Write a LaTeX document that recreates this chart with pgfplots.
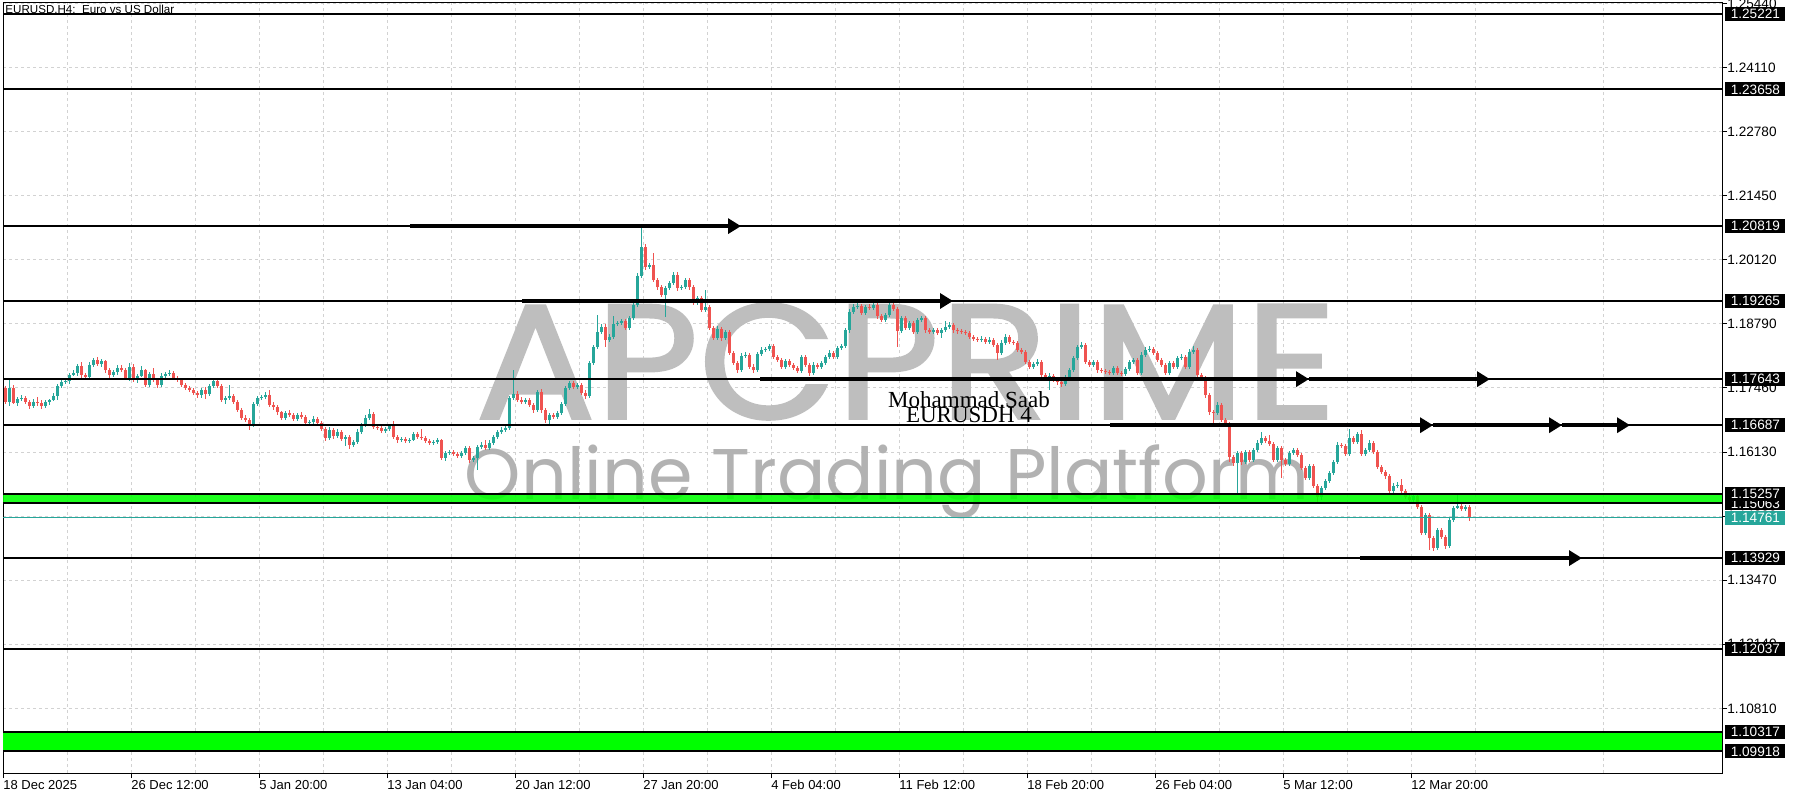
\documentclass[border=0pt]{standalone}
\usepackage{pgfplots}
\pgfplotsset{compat=1.18}
\usepackage{pgfplotstable}
\usepackage{fontspec}
\usepackage{graphicx}
\usetikzlibrary{arrows.meta}
\setmainfont{Liberation Sans}
\newfontfamily\poppins{Poppins}
\newfontfamily\poppinsFB[FakeBold=1.6]{Poppins}
\newfontfamily\serifT{Liberation Serif}
\definecolor{bull}{RGB}{38,166,154}
\definecolor{bear}{RGB}{239,83,80}
\definecolor{lvlgreen}{RGB}{0,255,0}
\definecolor{wm}{RGB}{190,190,190}
\definecolor{wmtxt}{RGB}{178,178,178}
\definecolor{gridc}{RGB}{210,210,210}

\pgfplotstableread{
i o h l c
0 1.1746 1.1751 1.1713 1.1717
1 1.1717 1.1763 1.1708 1.1746
2 1.1746 1.1753 1.1712 1.1715
3 1.1715 1.1727 1.1708 1.1723
4 1.1723 1.1731 1.1718 1.1725
5 1.1725 1.1730 1.1713 1.1717
6 1.1717 1.1720 1.1702 1.1708
7 1.1708 1.1724 1.1705 1.1717
8 1.1717 1.1728 1.1708 1.1715
9 1.1715 1.1721 1.1703 1.1708
10 1.1708 1.1722 1.1704 1.1717
11 1.1717 1.1724 1.1711 1.1721
12 1.1721 1.1736 1.1718 1.1729
13 1.1729 1.1754 1.1722 1.1750
14 1.1750 1.1764 1.1745 1.1758
15 1.1758 1.1765 1.1754 1.1760
16 1.1760 1.1776 1.1754 1.1773
17 1.1773 1.1784 1.1770 1.1777
18 1.1777 1.1796 1.1770 1.1792
19 1.1792 1.1800 1.1767 1.1773
20 1.1773 1.1776 1.1764 1.1769
21 1.1769 1.1799 1.1765 1.1794
22 1.1794 1.1809 1.1789 1.1804
23 1.1804 1.1810 1.1792 1.1796
24 1.1796 1.1806 1.1790 1.1802
25 1.1802 1.1805 1.1778 1.1783
26 1.1783 1.1787 1.1767 1.1773
27 1.1773 1.1784 1.1769 1.1779
28 1.1779 1.1793 1.1773 1.1788
29 1.1788 1.1794 1.1779 1.1783
30 1.1783 1.1787 1.1762 1.1767
31 1.1767 1.1797 1.1761 1.1790
32 1.1790 1.1795 1.1759 1.1763
33 1.1763 1.1775 1.1757 1.1771
34 1.1771 1.1791 1.1768 1.1783
35 1.1783 1.1786 1.1747 1.1752
36 1.1752 1.1780 1.1748 1.1775
37 1.1775 1.1787 1.1758 1.1763
38 1.1763 1.1767 1.1746 1.1752
39 1.1752 1.1776 1.1748 1.1771
40 1.1771 1.1779 1.1765 1.1775
41 1.1775 1.1784 1.1771 1.1777
42 1.1777 1.1781 1.1763 1.1767
43 1.1767 1.1771 1.1758 1.1763
44 1.1763 1.1766 1.1748 1.1752
45 1.1752 1.1756 1.1741 1.1746
46 1.1746 1.1750 1.1737 1.1742
47 1.1742 1.1745 1.1732 1.1736
48 1.1736 1.1740 1.1725 1.1731
49 1.1731 1.1745 1.1726 1.1742
50 1.1742 1.1748 1.1723 1.1734
51 1.1734 1.1755 1.1729 1.1750
52 1.1750 1.1765 1.1746 1.1760
53 1.1760 1.1765 1.1746 1.1750
54 1.1750 1.1754 1.1716 1.1721
55 1.1721 1.1729 1.1712 1.1725
56 1.1725 1.1752 1.1720 1.1729
57 1.1729 1.1733 1.1713 1.1717
58 1.1717 1.1721 1.1696 1.1700
59 1.1700 1.1704 1.1679 1.1684
60 1.1684 1.1689 1.1675 1.1680
61 1.1680 1.1684 1.1659 1.1669
62 1.1669 1.1717 1.1665 1.1713
63 1.1713 1.1730 1.1709 1.1725
64 1.1725 1.1732 1.1720 1.1727
65 1.1727 1.1738 1.1723 1.1731
66 1.1731 1.1742 1.1707 1.1711
67 1.1711 1.1716 1.1701 1.1706
68 1.1706 1.1710 1.1690 1.1696
69 1.1696 1.1699 1.1679 1.1684
70 1.1684 1.1698 1.1680 1.1694
71 1.1694 1.1700 1.1686 1.1690
72 1.1690 1.1695 1.1677 1.1682
73 1.1682 1.1694 1.1678 1.1690
74 1.1690 1.1696 1.1681 1.1686
75 1.1686 1.1689 1.1669 1.1673
76 1.1673 1.1679 1.1668 1.1675
77 1.1675 1.1687 1.1672 1.1682
78 1.1682 1.1686 1.1669 1.1673
79 1.1673 1.1678 1.1656 1.1661
80 1.1661 1.1664 1.1636 1.1642
81 1.1642 1.1665 1.1639 1.1659
82 1.1659 1.1663 1.1641 1.1646
83 1.1646 1.1660 1.1642 1.1655
84 1.1655 1.1658 1.1635 1.1640
85 1.1640 1.1648 1.1626 1.1644
86 1.1644 1.1649 1.1620 1.1628
87 1.1628 1.1638 1.1624 1.1634
88 1.1634 1.1660 1.1629 1.1655
89 1.1655 1.1673 1.1651 1.1669
90 1.1669 1.1689 1.1665 1.1684
91 1.1684 1.1703 1.1680 1.1692
92 1.1692 1.1696 1.1661 1.1665
93 1.1665 1.1669 1.1658 1.1663
94 1.1663 1.1667 1.1652 1.1657
95 1.1657 1.1665 1.1653 1.1661
96 1.1661 1.1671 1.1656 1.1667
97 1.1667 1.1678 1.1640 1.1644
98 1.1644 1.1648 1.1632 1.1638
99 1.1638 1.1645 1.1634 1.1640
100 1.1640 1.1644 1.1631 1.1636
101 1.1636 1.1642 1.1632 1.1638
102 1.1638 1.1654 1.1635 1.1650
103 1.1650 1.1655 1.1640 1.1644
104 1.1644 1.1660 1.1638 1.1642
105 1.1642 1.1646 1.1632 1.1636
106 1.1636 1.1640 1.1627 1.1632
107 1.1632 1.1638 1.1628 1.1634
108 1.1634 1.1642 1.1630 1.1638
109 1.1638 1.1641 1.1596 1.1601
110 1.1601 1.1615 1.1595 1.1611
111 1.1611 1.1618 1.1607 1.1613
112 1.1613 1.1617 1.1604 1.1609
113 1.1609 1.1613 1.1601 1.1605
114 1.1605 1.1615 1.1601 1.1611
115 1.1611 1.1626 1.1607 1.1622
116 1.1622 1.1625 1.1590 1.1597
117 1.1597 1.1605 1.1592 1.1601
118 1.1601 1.1628 1.1576 1.1624
119 1.1624 1.1634 1.1620 1.1628
120 1.1628 1.1638 1.1617 1.1622
121 1.1622 1.1637 1.1618 1.1632
122 1.1632 1.1648 1.1628 1.1644
123 1.1644 1.1659 1.1640 1.1655
124 1.1655 1.1664 1.1650 1.1659
125 1.1659 1.1668 1.1654 1.1663
126 1.1663 1.1730 1.1658 1.1725
127 1.1725 1.1783 1.1720 1.1734
128 1.1734 1.1740 1.1716 1.1721
129 1.1721 1.1727 1.1712 1.1717
130 1.1717 1.1725 1.1713 1.1721
131 1.1721 1.1726 1.1706 1.1711
132 1.1711 1.1715 1.1695 1.1700
133 1.1700 1.1742 1.1696 1.1738
134 1.1738 1.1744 1.1694 1.1700
135 1.1700 1.1704 1.1674 1.1680
136 1.1680 1.1694 1.1667 1.1690
137 1.1690 1.1695 1.1681 1.1686
138 1.1686 1.1698 1.1682 1.1694
139 1.1694 1.1717 1.1690 1.1713
140 1.1713 1.1750 1.1709 1.1746
141 1.1746 1.1760 1.1742 1.1756
142 1.1756 1.1761 1.1743 1.1748
143 1.1748 1.1757 1.1744 1.1752
144 1.1752 1.1756 1.1731 1.1736
145 1.1736 1.1741 1.1724 1.1729
146 1.1729 1.1802 1.1726 1.1798
147 1.1798 1.1836 1.1793 1.1831
148 1.1831 1.1897 1.1827 1.1862
149 1.1862 1.1879 1.1858 1.1873
150 1.1873 1.1878 1.1831 1.1846
151 1.1846 1.1857 1.1841 1.1852
152 1.1852 1.1895 1.1848 1.1879
153 1.1879 1.1886 1.1875 1.1881
154 1.1881 1.1890 1.1876 1.1885
155 1.1885 1.1889 1.1866 1.1871
156 1.1871 1.1896 1.1867 1.1891
157 1.1891 1.1923 1.1887 1.1918
158 1.1918 1.1984 1.1914 1.1979
159 1.1979 1.2080 1.1975 1.2039
160 1.2039 1.2045 1.1990 1.1997
161 1.1997 1.2006 1.1992 1.2001
162 1.2001 1.2026 1.1965 1.1970
163 1.1970 1.1974 1.1950 1.1955
164 1.1955 1.1959 1.1934 1.1939
165 1.1939 1.1958 1.1893 1.1953
166 1.1953 1.1969 1.1949 1.1964
167 1.1964 1.1987 1.1960 1.1981
168 1.1981 1.1986 1.1948 1.1953
169 1.1953 1.1960 1.1949 1.1955
170 1.1955 1.1975 1.1951 1.1970
171 1.1970 1.1974 1.1950 1.1955
172 1.1955 1.1959 1.1918 1.1924
173 1.1924 1.1937 1.1919 1.1933
174 1.1933 1.1937 1.1903 1.1908
175 1.1908 1.1950 1.1903 1.1914
176 1.1914 1.1918 1.1866 1.1871
177 1.1871 1.1875 1.1845 1.1850
178 1.1850 1.1874 1.1846 1.1869
179 1.1869 1.1873 1.1844 1.1850
180 1.1850 1.1866 1.1846 1.1862
181 1.1862 1.1866 1.1814 1.1819
182 1.1819 1.1823 1.1793 1.1798
183 1.1798 1.1802 1.1778 1.1783
184 1.1783 1.1818 1.1779 1.1813
185 1.1813 1.1820 1.1808 1.1815
186 1.1815 1.1819 1.1786 1.1790
187 1.1790 1.1795 1.1778 1.1783
188 1.1783 1.1821 1.1779 1.1817
189 1.1817 1.1830 1.1812 1.1825
190 1.1825 1.1832 1.1820 1.1827
191 1.1827 1.1838 1.1823 1.1833
192 1.1833 1.1837 1.1806 1.1811
193 1.1811 1.1815 1.1799 1.1804
194 1.1804 1.1808 1.1785 1.1790
195 1.1790 1.1806 1.1786 1.1802
196 1.1802 1.1807 1.1790 1.1794
197 1.1794 1.1798 1.1783 1.1788
198 1.1788 1.1792 1.1776 1.1781
199 1.1781 1.1815 1.1777 1.1811
200 1.1811 1.1815 1.1789 1.1794
201 1.1794 1.1798 1.1771 1.1777
202 1.1777 1.1799 1.1773 1.1794
203 1.1794 1.1798 1.1785 1.1790
204 1.1790 1.1802 1.1786 1.1798
205 1.1798 1.1815 1.1794 1.1811
206 1.1811 1.1824 1.1807 1.1819
207 1.1819 1.1823 1.1806 1.1811
208 1.1811 1.1834 1.1806 1.1829
209 1.1829 1.1838 1.1825 1.1833
210 1.1833 1.1870 1.1829 1.1866
211 1.1866 1.1909 1.1861 1.1904
212 1.1904 1.1920 1.1900 1.1914
213 1.1914 1.1922 1.1909 1.1916
214 1.1916 1.1920 1.1897 1.1902
215 1.1902 1.1918 1.1898 1.1914
216 1.1914 1.1920 1.1907 1.1912
217 1.1912 1.1923 1.1908 1.1918
218 1.1918 1.1922 1.1890 1.1895
219 1.1895 1.1899 1.1882 1.1887
220 1.1887 1.1901 1.1883 1.1897
221 1.1897 1.1922 1.1893 1.1918
222 1.1918 1.1924 1.1905 1.1910
223 1.1910 1.1914 1.1831 1.1864
224 1.1864 1.1896 1.1860 1.1891
225 1.1891 1.1895 1.1866 1.1871
226 1.1871 1.1886 1.1867 1.1881
227 1.1881 1.1885 1.1857 1.1862
228 1.1862 1.1891 1.1858 1.1887
229 1.1887 1.1896 1.1882 1.1891
230 1.1891 1.1895 1.1861 1.1866
231 1.1866 1.1870 1.1857 1.1862
232 1.1862 1.1870 1.1858 1.1866
233 1.1866 1.1870 1.1855 1.1860
234 1.1860 1.1870 1.1850 1.1866
235 1.1866 1.1886 1.1862 1.1873
236 1.1873 1.1882 1.1868 1.1877
237 1.1877 1.1881 1.1861 1.1866
238 1.1866 1.1870 1.1859 1.1864
239 1.1864 1.1868 1.1857 1.1862
240 1.1862 1.1866 1.1855 1.1860
241 1.1860 1.1864 1.1847 1.1852
242 1.1852 1.1856 1.1843 1.1848
243 1.1848 1.1852 1.1841 1.1846
244 1.1846 1.1853 1.1842 1.1848
245 1.1848 1.1852 1.1837 1.1842
246 1.1842 1.1851 1.1838 1.1846
247 1.1846 1.1850 1.1830 1.1835
248 1.1835 1.1839 1.1804 1.1819
249 1.1819 1.1845 1.1815 1.1840
250 1.1840 1.1857 1.1836 1.1852
251 1.1852 1.1856 1.1838 1.1842
252 1.1842 1.1846 1.1835 1.1840
253 1.1840 1.1844 1.1820 1.1825
254 1.1825 1.1829 1.1816 1.1821
255 1.1821 1.1825 1.1795 1.1800
256 1.1800 1.1804 1.1785 1.1790
257 1.1790 1.1800 1.1786 1.1796
258 1.1796 1.1806 1.1792 1.1800
259 1.1800 1.1804 1.1768 1.1773
260 1.1773 1.1777 1.1762 1.1767
261 1.1767 1.1776 1.1742 1.1771
262 1.1771 1.1775 1.1758 1.1763
263 1.1763 1.1767 1.1753 1.1758
264 1.1758 1.1762 1.1748 1.1754
265 1.1754 1.1772 1.1750 1.1767
266 1.1767 1.1788 1.1763 1.1783
267 1.1783 1.1813 1.1779 1.1808
268 1.1808 1.1836 1.1804 1.1831
269 1.1831 1.1842 1.1826 1.1835
270 1.1835 1.1840 1.1795 1.1800
271 1.1800 1.1804 1.1789 1.1794
272 1.1794 1.1805 1.1790 1.1800
273 1.1800 1.1804 1.1778 1.1783
274 1.1783 1.1787 1.1776 1.1781
275 1.1781 1.1785 1.1774 1.1779
276 1.1779 1.1783 1.1772 1.1777
277 1.1777 1.1792 1.1773 1.1788
278 1.1788 1.1792 1.1772 1.1777
279 1.1777 1.1781 1.1770 1.1775
280 1.1775 1.1790 1.1771 1.1785
281 1.1785 1.1805 1.1781 1.1800
282 1.1800 1.1809 1.1796 1.1804
283 1.1804 1.1808 1.1772 1.1777
284 1.1777 1.1820 1.1773 1.1815
285 1.1815 1.1830 1.1811 1.1825
286 1.1825 1.1833 1.1821 1.1827
287 1.1827 1.1831 1.1814 1.1819
288 1.1819 1.1823 1.1799 1.1804
289 1.1804 1.1808 1.1789 1.1794
290 1.1794 1.1798 1.1772 1.1777
291 1.1777 1.1802 1.1773 1.1798
292 1.1798 1.1802 1.1785 1.1790
293 1.1790 1.1813 1.1786 1.1808
294 1.1808 1.1816 1.1803 1.1811
295 1.1811 1.1815 1.1785 1.1790
296 1.1790 1.1826 1.1786 1.1821
297 1.1821 1.1833 1.1817 1.1825
298 1.1825 1.1829 1.1768 1.1773
299 1.1773 1.1777 1.1760 1.1767
300 1.1767 1.1771 1.1725 1.1731
301 1.1731 1.1735 1.1690 1.1696
302 1.1696 1.1700 1.1673 1.1694
303 1.1694 1.1716 1.1690 1.1711
304 1.1711 1.1715 1.1675 1.1680
305 1.1680 1.1684 1.1665 1.1671
306 1.1671 1.1675 1.1592 1.1603
307 1.1603 1.1607 1.1584 1.1590
308 1.1590 1.1616 1.1528 1.1611
309 1.1611 1.1615 1.1587 1.1592
310 1.1592 1.1618 1.1588 1.1613
311 1.1613 1.1617 1.1592 1.1597
312 1.1597 1.1622 1.1593 1.1617
313 1.1617 1.1637 1.1613 1.1632
314 1.1632 1.1655 1.1628 1.1642
315 1.1642 1.1646 1.1631 1.1636
316 1.1636 1.1648 1.1626 1.1630
317 1.1630 1.1634 1.1592 1.1597
318 1.1597 1.1626 1.1593 1.1622
319 1.1622 1.1626 1.1560 1.1597
320 1.1597 1.1601 1.1583 1.1588
321 1.1588 1.1616 1.1584 1.1611
322 1.1611 1.1622 1.1607 1.1617
323 1.1617 1.1621 1.1602 1.1607
324 1.1607 1.1611 1.1575 1.1580
325 1.1580 1.1584 1.1554 1.1559
326 1.1559 1.1589 1.1555 1.1584
327 1.1584 1.1588 1.1538 1.1543
328 1.1543 1.1547 1.1509 1.1520
329 1.1520 1.1543 1.1514 1.1538
330 1.1538 1.1558 1.1534 1.1553
331 1.1553 1.1574 1.1549 1.1569
332 1.1569 1.1597 1.1565 1.1592
333 1.1592 1.1633 1.1588 1.1628
334 1.1628 1.1632 1.1621 1.1626
335 1.1626 1.1630 1.1604 1.1609
336 1.1609 1.1661 1.1605 1.1642
337 1.1642 1.1647 1.1629 1.1634
338 1.1634 1.1655 1.1630 1.1650
339 1.1650 1.1659 1.1604 1.1609
340 1.1609 1.1622 1.1605 1.1617
341 1.1617 1.1637 1.1613 1.1632
342 1.1632 1.1636 1.1608 1.1613
343 1.1613 1.1617 1.1577 1.1582
344 1.1582 1.1586 1.1567 1.1572
345 1.1572 1.1576 1.1558 1.1563
346 1.1563 1.1567 1.1527 1.1532
347 1.1532 1.1548 1.1528 1.1543
348 1.1543 1.1550 1.1539 1.1545
349 1.1545 1.1556 1.1527 1.1532
350 1.1532 1.1536 1.1515 1.1520
351 1.1520 1.1524 1.1509 1.1514
352 1.1514 1.1526 1.1509 1.1522
353 1.1522 1.1526 1.1494 1.1499
354 1.1499 1.1503 1.1440 1.1445
355 1.1445 1.1487 1.1441 1.1482
356 1.1482 1.1486 1.1410 1.1434
357 1.1434 1.1438 1.1408 1.1414
358 1.1414 1.1456 1.1410 1.1451
359 1.1451 1.1455 1.1432 1.1437
360 1.1437 1.1441 1.1412 1.1418
361 1.1418 1.1477 1.1414 1.1472
362 1.1472 1.1502 1.1468 1.1497
363 1.1497 1.1524 1.1494 1.1501
364 1.1501 1.1505 1.1490 1.1495
365 1.1495 1.1504 1.1491 1.1499
366 1.1499 1.1503 1.1469 1.1476
}\candles

\newcommand{\lblfont}{\fontsize{6.8}{8}\selectfont}
\newcommand{\pricebox}[3]{%
  \node[fill=#2, text=white, anchor=west, minimum width=30pt, minimum height=7pt,
        inner sep=0pt, font=\lblfont, xshift=1.5pt] at (axis cs:429.25,#1) {#3};}

\begin{document}
\begin{tikzpicture}
\fill[white] (-1.5pt,-13.5pt) rectangle (898.5pt,386.5pt);
\begin{axis}[
  at={(0pt,0pt)}, anchor=south west,
  scale only axis, width=859.5pt, height=385pt,
  xmin=-0.5, xmax=429.25, ymin=1.09468, ymax=1.25450,
  clip=false,
  axis line style={line width=0.5pt, black},
  xtick={-0.5,31.5,...,351.5},
  xticklabels={18 Dec 2025,26 Dec 12:00,5 Jan 20:00,13 Jan 04:00,20 Jan 12:00,27 Jan 20:00,4 Feb 04:00,11 Feb 12:00,18 Feb 20:00,26 Feb 04:00,5 Mar 12:00,12 Mar 20:00},
  minor xtick={15.5,47.5,...,415.5},
  xmajorgrids, xminorgrids, ymajorgrids,
  ytick={1.1081,1.1214,1.1347,1.1480,1.1613,1.1746,1.1879,1.2012,1.2145,1.2278,1.2411,1.2544},
  yticklabels={1.10810,1.12140,1.13470,1.14800,1.16130,1.17460,1.18790,1.20120,1.21450,1.22780,1.24110,1.25440},
  grid style={gridc, dash pattern=on 1.5pt off 1.5pt, line width=0.5pt},
  minor grid style={gridc, dash pattern=on 1.5pt off 1.5pt, line width=0.5pt},
  xtick pos=bottom, ytick pos=right,
  tick align=outside,
  major tick length=2.5pt, minor tick length=0pt,
  tick style={black, line width=0.5pt},
  xticklabel style={anchor=north west, inner sep=0pt, font=\fontsize{6.5}{7.5}\selectfont, xshift=0pt, yshift=-1pt},
  yticklabel style={anchor=west, inner sep=0pt, font=\lblfont, xshift=0pt},
]
% watermark
\node[text=wm, inner sep=0pt, anchor=center] at (axis cs:225.25,1.18009)
  {\resizebox{430.5pt}{57.5pt}{\poppinsFB APCPRIME}};
\node[text=wmtxt, inner sep=0pt, anchor=base] at (axis cs:220.5,1.15155)
  {\resizebox{422pt}{!}{\poppins Online Trading Platform}};

% wicks
\addplot[draw=none, mark=none, forget plot,
  restrict expr to domain={\thisrow{c}-\thisrow{o}}{0:1},
  error bars/.cd, y dir=both, y explicit, error mark=none,
  error bar style={line width=0.5pt, color=bull}]
  table[x=i, y=c, y error plus expr=\thisrow{h}-\thisrow{c}, y error minus expr=\thisrow{c}-\thisrow{l}] {\candles};
\addplot[draw=none, mark=none, forget plot,
  restrict expr to domain={\thisrow{c}-\thisrow{o}}{-1:-0.00001},
  error bars/.cd, y dir=both, y explicit, error mark=none,
  error bar style={line width=0.5pt, color=bear}]
  table[x=i, y=c, y error plus expr=\thisrow{h}-\thisrow{c}, y error minus expr=\thisrow{c}-\thisrow{l}] {\candles};
% bodies
\addplot[draw=none, mark=none, forget plot,
  restrict expr to domain={\thisrow{c}-\thisrow{o}}{0:1},
  error bars/.cd, y dir=minus, y explicit, error mark=none,
  error bar style={line width=1.5pt, color=bull}]
  table[x=i, y=c, y error minus expr=\thisrow{c}-\thisrow{o}] {\candles};
\addplot[draw=none, mark=none, forget plot,
  restrict expr to domain={\thisrow{c}-\thisrow{o}}{-1:-0.00001},
  error bars/.cd, y dir=plus, y explicit, error mark=none,
  error bar style={line width=1.5pt, color=bear}]
  table[x=i, y=c, y error plus expr=\thisrow{o}-\thisrow{c}] {\candles};

% green zones
\fill[lvlgreen, fill opacity=0.88] (axis cs:-0.5,1.15063) rectangle (axis cs:429.25,1.15257);
\fill[lvlgreen] (axis cs:-0.5,1.09918) rectangle (axis cs:429.25,1.10317);
% level lines
\pgfplotsinvokeforeach{1.25221,1.23658,1.20819,1.19265,1.17643,1.16687,1.15257,1.15063,1.13929,1.12037,1.10317,1.09918}{
  \draw[line width=1pt, black] (axis cs:-0.5,#1) -- (axis cs:429.25,#1);
}
\draw[bull, line width=0.5pt] (axis cs:-0.5,1.14761) -- (axis cs:429.25,1.14761);

% arrows
\draw[line width=2pt, black, -{Triangle[length=6.5pt,width=7.5pt]}] (axis cs:101.25,1.20819) -- (axis cs:184,1.20819);
\draw[line width=2pt, black, -{Triangle[length=6.5pt,width=7.5pt]}] (axis cs:129.25,1.19265) -- (axis cs:237,1.19265);
\draw[line width=2pt, black, -{Triangle[length=6.5pt,width=7.5pt]}] (axis cs:188.75,1.17643) -- (axis cs:326,1.17643);
\draw[line width=2pt, black, -{Triangle[length=6.5pt,width=7.5pt]}] (axis cs:326,1.17643) -- (axis cs:371.25,1.17643);
\draw[line width=2pt, black, -{Triangle[length=6.5pt,width=7.5pt]}] (axis cs:276.25,1.16687) -- (axis cs:357,1.16687);
\draw[line width=2pt, black, -{Triangle[length=6.5pt,width=7.5pt]}] (axis cs:357,1.16687) -- (axis cs:389.25,1.16687);
\draw[line width=2pt, black, -{Triangle[length=6.5pt,width=7.5pt]}] (axis cs:389.25,1.16687) -- (axis cs:406.25,1.16687);
\draw[line width=2pt, black, -{Triangle[length=6.5pt,width=7.5pt]}] (axis cs:338.75,1.13929) -- (axis cs:394.25,1.13929);

% author text
\node[anchor=base, inner sep=0pt, font=\serifT\fontsize{11.5}{12}\selectfont] at (axis cs:241,1.17044) {Mohammad.Saab};
\node[anchor=base, inner sep=0pt, font=\serifT\fontsize{11.5}{12}\selectfont] at (axis cs:241,1.16733) {EURUSDH 4};

% title
\node[anchor=north west, inner sep=0pt, font=\fontsize{5.8}{7}\selectfont, xshift=1pt, yshift=-1pt] at (rel axis cs:0,1) {EURUSD,H4:\ \ Euro vs US Dollar};

% price boxes
\pricebox{1.25221}{black}{1.25221}
\pricebox{1.23658}{black}{1.23658}
\pricebox{1.20819}{black}{1.20819}
\pricebox{1.19265}{black}{1.19265}
\pricebox{1.17643}{black}{1.17643}
\pricebox{1.16687}{black}{1.16687}
\pricebox{1.15063}{black}{1.15063}
\pricebox{1.15257}{black}{1.15257}
\pricebox{1.14761}{bull}{1.14761}
\pricebox{1.13929}{black}{1.13929}
\pricebox{1.12037}{black}{1.12037}
\pricebox{1.10317}{black}{1.10317}
\pricebox{1.09918}{black}{1.09918}
\end{axis}
\pgfresetboundingbox
\path[use as bounding box] (-1.5pt,-13.5pt) rectangle (898.5pt,386.5pt);
\end{tikzpicture}
\end{document}
